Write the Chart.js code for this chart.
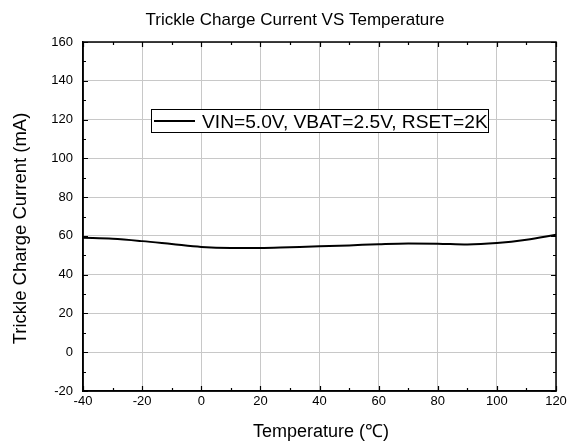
<!DOCTYPE html>
<html><head><meta charset="utf-8">
<script src="https://cdn.jsdelivr.net/npm/chart.js@4"></script>
<style>html,body{margin:0;padding:0;background:#fff}#wrap{width:570px;height:444px}</style>
</head><body><div id="wrap"><canvas id="c" width="570" height="444"></canvas></div>
<script>
const titleText = "Trickle Charge Current VS Temperature";
const xTitle = "Temperature (\u2103)";
const yTitle = "Trickle Charge Current (mA)";
const seriesLabel = "VIN=5.0V, VBAT=2.5V, RSET=2K";
const temperatures = [-40, -30, -20, -10, 0, 10, 20, 30, 40, 50, 60, 70, 80, 90, 100, 110, 120];
const currents = [59.0, 58.5, 57.3, 55.8, 54.3, 53.8, 53.8, 54.2, 54.6, 55.1, 55.7, 56.1, 56.0, 55.6, 56.3, 58.0, 60.6];
const xMin = -40, xMax = 120, xStep = 20;
const yMin = -20, yMax = 160, yStep = 20;

const FONT = "'Liberation Sans', Arial, sans-serif";

const framePlugin = {
  id: 'frame',
  afterDatasetsDraw(chart) {
    const ctx = chart.ctx;
    const ds = chart.data.datasets[0];
    ctx.save();
    const bx = 151, by = 109, bw = 337, bh = 23;
    ctx.fillStyle = '#fff';
    ctx.fillRect(bx, by, bw, bh);
    ctx.strokeStyle = '#000';
    ctx.lineWidth = 1;
    ctx.strokeRect(bx + 0.5, by + 0.5, bw, bh);
    ctx.beginPath();
    ctx.lineWidth = 2;
    ctx.moveTo(bx + 3, by + 12);
    ctx.lineTo(bx + 44, by + 12);
    ctx.stroke();
    ctx.fillStyle = '#000';
    ctx.font = "19.2px " + FONT;
    ctx.textBaseline = 'alphabetic';
    ctx.textAlign = 'left';
    ctx.fillText(ds.label, bx + 51, by + 19);
    ctx.restore();
  },
  afterDraw(chart) {
    const ctx = chart.ctx;
    const a = chart.chartArea;
    const xs = chart.scales.x, ys = chart.scales.y;
    ctx.save();
    ctx.strokeStyle = '#000';
    ctx.lineWidth = 1.5;
    ctx.strokeRect(a.left, a.top, a.right - a.left, a.bottom - a.top);
    ctx.lineWidth = 1.2;
    ctx.beginPath();
    for (let v = xMin; v <= xMax; v += xStep / 2) {
      const px = Math.round(xs.getPixelForValue(v)) + 0.5;
      const len = (v % xStep === 0) ? 5 : 3;
      ctx.moveTo(px, a.bottom); ctx.lineTo(px, a.bottom - len);
      ctx.moveTo(px, a.top); ctx.lineTo(px, a.top + len);
    }
    for (let v = yMin; v <= yMax; v += yStep / 2) {
      const py = Math.round(ys.getPixelForValue(v)) + 0.5;
      const len = (v % yStep === 0) ? 5 : 3;
      ctx.moveTo(a.left, py); ctx.lineTo(a.left + len, py);
      ctx.moveTo(a.right, py); ctx.lineTo(a.right - len, py);
    }
    ctx.stroke();
    ctx.fillStyle = '#000';
    // chart title
    ctx.font = "17px " + FONT;
    ctx.textAlign = 'center';
    ctx.textBaseline = 'alphabetic';
    ctx.fillText(titleText, 295, 25);
    // y axis title
    ctx.save();
    ctx.translate(25.5, 228.5);
    ctx.rotate(-Math.PI / 2);
    ctx.font = "18.5px " + FONT;
    ctx.textAlign = 'center';
    ctx.textBaseline = 'alphabetic';
    ctx.fillText(yTitle, 0, 0);
    ctx.restore();
    // x axis title
    ctx.font = "18px " + FONT;
    ctx.textAlign = 'center';
    ctx.fillText(xTitle, 321, 437);
    ctx.restore();
  }
};

new Chart(document.getElementById('c'), {
  type: 'line',
  data: {
    datasets: [{
      label: seriesLabel,
      data: temperatures.map((t, i) => ({ x: t, y: currents[i] })),
      borderColor: '#000',
      borderWidth: 2,
      pointRadius: 0,
      fill: false,
      tension: 0.4,
      cubicInterpolationMode: 'monotone'
    }]
  },
  options: {
    responsive: false,
    animation: false,
    devicePixelRatio: 1,
    layout: { padding: { top: 42, right: 14, left: 0, bottom: 0 } },
    plugins: { legend: { display: false }, tooltip: { enabled: false }, title: { display: false } },
    scales: {
      x: {
        type: 'linear', min: xMin, max: xMax,
        ticks: { stepSize: xStep, color: '#000', font: { family: FONT, size: 13 }, padding: 3, maxRotation: 0 },
        grid: { color: '#c8c8c8', drawTicks: false, lineWidth: 1 },
        border: { display: true, color: '#000', width: 1.5 },
        title: { display: false },
        afterFit(s) { s.height = 53; }
      },
      y: {
        type: 'linear', min: yMin, max: yMax,
        ticks: { stepSize: yStep, color: '#000', font: { family: FONT, size: 13 }, padding: 10 },
        grid: { color: '#c8c8c8', drawTicks: false, lineWidth: 1 },
        border: { display: true, color: '#000', width: 1.5 },
        title: { display: false },
        afterFit(s) { s.width = 83; }
      }
    }
  },
  plugins: [framePlugin]
});
</script>
</body></html>
